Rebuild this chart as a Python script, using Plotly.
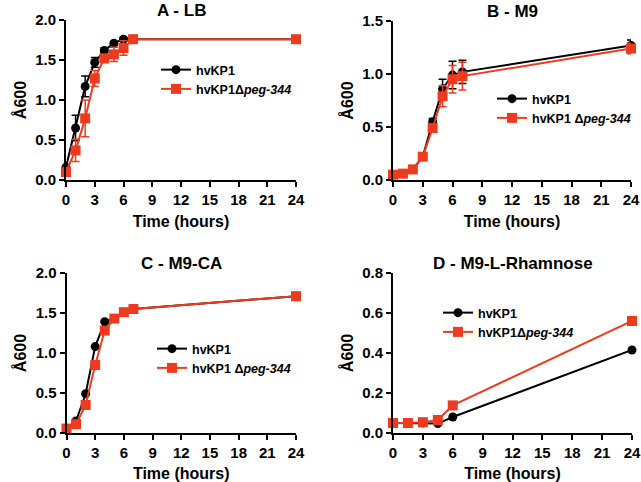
import plotly.graph_objects as go

W, H = 641, 482
BLACK = "#000000"
RED = "#EE3A1F"

# Panel A - LB
tA = [0, 1, 2, 3, 4, 5, 6, 7, 24]
A_wt = [0.16, 0.65, 1.17, 1.47, 1.62, 1.71, 1.76, 1.76, 1.76]
A_wt_err = [0.02, 0.16, 0.13, 0.06, 0.03, 0.02, 0.02, 0.02, 0.01]
A_mut = [0.10, 0.37, 0.77, 1.27, 1.52, 1.57, 1.65, 1.76, 1.76]
A_mut_err = [0.03, 0.14, 0.23, 0.10, 0.05, 0.09, 0.09, 0.02, 0.01]

# Panel B - M9
tB = [0, 1, 2, 3, 4, 5, 6, 7, 24]
B_wt = [0.05, 0.06, 0.10, 0.22, 0.55, 0.86, 0.99, 1.02, 1.27]
B_wt_err = [0.005, 0.005, 0.01, 0.02, 0.03, 0.09, 0.13, 0.11, 0.05]
B_mut = [0.05, 0.06, 0.10, 0.22, 0.49, 0.79, 0.95, 0.98, 1.24]
B_mut_err = [0.005, 0.005, 0.01, 0.02, 0.03, 0.10, 0.13, 0.13, 0.05]

# Panel C - M9-CA
tC = [0, 1, 2, 3, 4, 5, 6, 7, 24]
C_wt = [0.06, 0.15, 0.49, 1.08, 1.39, 1.43, 1.51, 1.55, 1.71]
C_mut = [0.055, 0.11, 0.35, 0.85, 1.28, 1.43, 1.51, 1.55, 1.71]

# Panel D - M9-L-Rhamnose
tD = [0, 1.5, 3, 4.5, 6, 24]
D_wt = [0.05, 0.05, 0.05, 0.047, 0.08, 0.415]
D_mut = [0.05, 0.05, 0.054, 0.065, 0.138, 0.56]
D_mut_err = [0.003, 0.003, 0.004, 0.005, 0.008, 0.02]

xticks = [0, 3, 6, 9, 12, 15, 18, 21, 24]

FONT = "Liberation Sans"

panels = [
    dict(title="A - LB", t=tA, wt=A_wt, wte=A_wt_err, mut=A_mut, mute=A_mut_err,
         yr=[0, 2], dt=0.5, box=(66, 296, 20, 180),
         mutname="<b>hvKP1Δ<i>peg-344</i></b>", leg=(156, 55)),
    dict(title="B - M9", t=tB, wt=B_wt, wte=B_wt_err, mut=B_mut, mute=B_mut_err,
         yr=[0, 1.5], dt=0.5, box=(393, 631, 21, 180),
         mutname="<b>hvKP1 Δ<i>peg-344</i></b>", leg=(492, 84)),
    dict(title="C - M9-CA", t=tC, wt=C_wt, wte=None, mut=C_mut, mute=None,
         yr=[0, 2], dt=0.5, box=(66.5, 296, 273, 433),
         mutname="<b>hvKP1 Δ<i>peg-344</i></b>", leg=(152, 334)),
    dict(title="D - M9-L-Rhamnose", t=tD, wt=D_wt, wte=None, mut=D_mut, mute=D_mut_err,
         yr=[0, 0.8], dt=0.2, box=(393, 632, 273, 433),
         mutname="<b>hvKP1Δ<i>peg-344</i></b>", leg=(438, 298)),
]

fig = go.Figure()
annotations = []
layout = {}
for i, p in enumerate(panels, start=1):
    sfx = "" if i == 1 else str(i)
    xa, ya = "x" + sfx, "y" + sfx
    lg = "legend" if i == 1 else "legend" + str(i)
    x0, x1, y0, y1 = p["box"]
    for name, ys, err, col, sym in [
        ("<b>hvKP1</b>", p["wt"], p["wte"], BLACK, "circle"),
        (p["mutname"], p["mut"], p["mute"], RED, "square"),
    ]:
        fig.add_trace(go.Scatter(
            x=p["t"], y=ys, name=name, mode="lines+markers",
            line=dict(color=col, width=2),
            marker=dict(color=col, symbol=sym, size=9 if sym == "circle" else 10),
            error_y=dict(type="data", array=err, visible=err is not None,
                         color=col, thickness=1.5, width=4),
            xaxis=xa, yaxis=ya, legend=lg, cliponaxis=False,
        ))
    layout["xaxis" + sfx] = dict(
        domain=[x0 / W, x1 / W], range=[0, 24], tickvals=xticks, anchor=ya,
        automargin=False,
        showline=True, linecolor="black", linewidth=2, ticks="outside",
        ticklen=5, tickwidth=2, tickcolor="black", showgrid=False, zeroline=False,
        tickfont=dict(family=FONT, size=15, color="black", weight="bold"),
        title=dict(text="<b>Time (hours)</b>", standoff=9,
                   font=dict(family=FONT, size=16, color="black")),
    )
    ytv = [round(p["dt"] * k, 2) for k in range(int(round(p["yr"][1] / p["dt"])) + 1)]
    layout["yaxis" + sfx] = dict(
        domain=[1 - y1 / H, 1 - y0 / H], range=p["yr"], tickvals=ytv,
        tickformat=".1f", anchor=xa, automargin=False,
        showline=True, linecolor="black", linewidth=2, ticks="outside",
        ticklen=5, tickwidth=2, tickcolor="black", showgrid=False, zeroline=False,
        tickfont=dict(family=FONT, size=15, color="black", weight="bold"),
        title=dict(text="<b>Å600</b>", standoff=5,
                   font=dict(family=FONT, size=16, color="black")),
    )
    layout[lg] = dict(
        x=p["leg"][0] / W, y=1 - p["leg"][1] / H, xanchor="left", yanchor="top",
        bgcolor="rgba(0,0,0,0)", itemwidth=30, tracegroupgap=4,
        font=dict(family=FONT, size=12.5, color="black"),
    )
    annotations.append(dict(
        text="<b>" + p["title"] + "</b>", x=(x0 + x1) / 2 / W,
        y=1 - (y0 - 10) / H, xref="paper", yref="paper", showarrow=False,
        xanchor="center", yanchor="middle",
        font=dict(family=FONT, size=17, color="black"),
    ))

fig.update_layout(
    width=W, height=H, margin=dict(l=0, r=0, t=0, b=0, autoexpand=False),
    plot_bgcolor="white", paper_bgcolor="white", showlegend=True,
    annotations=annotations, **layout,
)
fig.write_html(
    "out.html",
    config={"displayModeBar": False},
    post_script="document.body.style.margin='0';document.body.style.overflow='hidden';",
)
